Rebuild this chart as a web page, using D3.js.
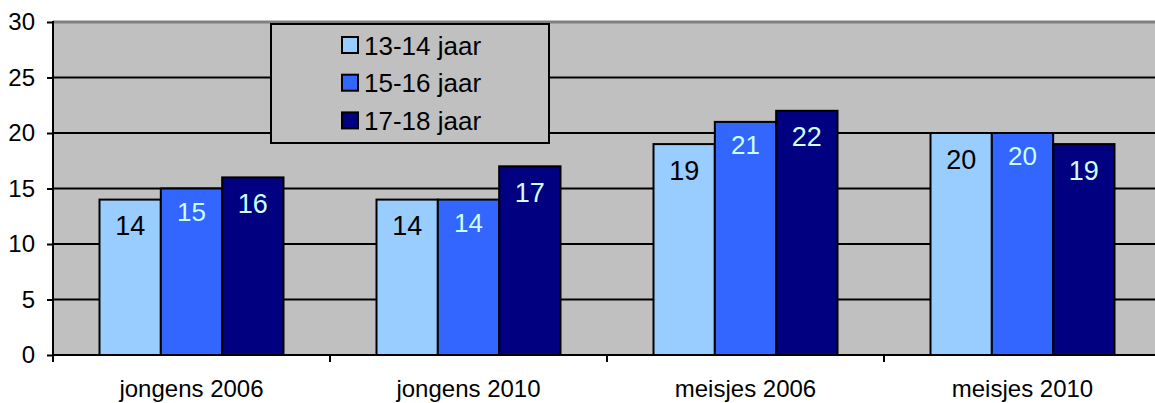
<!DOCTYPE html>
<html>
<head>
<meta charset="utf-8">
<script src="https://cdn.jsdelivr.net/npm/d3@7"></script>
<style>
  body { margin: 0; background: #fff; }
  svg text { font-family: Arial, "Liberation Sans", sans-serif; }
</style>
</head>
<body>
<div id="chart"></div>
<script>
var categories = ['jongens 2006', 'jongens 2010', 'meisjes 2006', 'meisjes 2010'];
var seriesNames = ['13-14 jaar', '15-16 jaar', '17-18 jaar'];
var age1314 = [14, 14, 19, 20];
var age1516 = [15, 14, 21, 20];
var age1718 = [16, 17, 22, 19];
var yTicks = [0, 5, 10, 15, 20, 25, 30];

var svgWidth = 1155;
var svgHeight = 403;

var colors = ['#99CCFF', '#3366FF', '#000080'];
var labelColors = ['#000000', '#CCFFFF', '#CCFFFF'];
var labelSizes = [27, 26, 27];
var labelOffsets = [35.5, 32, 35.5];

var plot = { left: 53, right: 1161, top: 22, bottom: 355 };

var svg = d3.select('#chart')
    .append('svg')
    .attr('width', svgWidth)
    .attr('height', svgHeight);

var seriesData = [age1314, age1516, age1718];

var xScale = d3.scaleBand()
    .domain(categories)
    .range([plot.left, plot.right]);

var groupW = xScale.bandwidth();
var innerScale = d3.scaleBand()
    .domain(d3.range(seriesNames.length))
    .range([46.5, groupW - 46.5]);

var yScale = d3.scaleLinear()
    .domain([0, 30])
    .range([plot.bottom, plot.top]);

// plot background
svg.append('rect')
    .attr('x', plot.left)
    .attr('y', plot.top)
    .attr('width', plot.right - plot.left)
    .attr('height', plot.bottom - plot.top)
    .attr('fill', '#C0C0C0');

// gridlines
svg.append('g')
    .selectAll('line')
    .data(yTicks.filter(d => d > 0 && d < 30))
    .enter()
    .append('line')
    .attr('x1', plot.left)
    .attr('x2', plot.right)
    .attr('y1', d => yScale(d))
    .attr('y2', d => yScale(d))
    .attr('stroke', '#000')
    .attr('stroke-width', 2);

// top border
svg.append('line')
    .attr('x1', plot.left)
    .attr('x2', plot.right)
    .attr('y1', plot.top)
    .attr('y2', plot.top)
    .attr('stroke', '#808080')
    .attr('stroke-width', 3);

// bars
var bars = [];
seriesData.forEach(function(vals, s) {
    vals.forEach(function(v, i) {
        bars.push({ s: s, cat: categories[i], value: v });
    });
});

svg.append('g')
    .selectAll('rect')
    .data(bars)
    .enter()
    .append('rect')
    .attr('x', d => xScale(d.cat) + innerScale(d.s))
    .attr('y', d => yScale(d.value))
    .attr('width', innerScale.bandwidth())
    .attr('height', d => yScale(0) - yScale(d.value))
    .attr('fill', d => colors[d.s])
    .attr('stroke', '#000')
    .attr('stroke-width', 2);

svg.append('g')
    .selectAll('text')
    .data(bars)
    .enter()
    .append('text')
    .attr('x', d => xScale(d.cat) + innerScale(d.s) + innerScale.bandwidth() / 2)
    .attr('y', d => yScale(d.value) + labelOffsets[d.s])
    .attr('text-anchor', 'middle')
    .style('font-size', d => labelSizes[d.s] + 'px')
    .attr('fill', d => labelColors[d.s])
    .text(d => d.value);

// y axis
var leftAxis = d3.axisLeft(yScale)
    .tickValues(yTicks)
    .tickSize(6)
    .tickPadding(12);

var yAxisG = svg.append('g')
    .attr('transform', `translate(${plot.left},0)`)
    .call(leftAxis);
yAxisG.select('.domain').remove();
yAxisG.selectAll('line').attr('stroke', '#000').attr('stroke-width', 2);
yAxisG.selectAll('text')
    .style('font-size', '24px')
    .attr('fill', '#000');
yAxisG.append('line')
    .attr('x1', 0).attr('x2', 0)
    .attr('y1', plot.top - 1).attr('y2', plot.bottom + 1)
    .attr('stroke', '#000').attr('stroke-width', 2);

// x axis
var xAxisG = svg.append('g')
    .attr('transform', `translate(0,${plot.bottom})`);
xAxisG.append('line')
    .attr('x1', plot.left).attr('x2', plot.right)
    .attr('stroke', '#000').attr('stroke-width', 2);
xAxisG.selectAll('line.tick')
    .data(categories.concat(['end']))
    .enter()
    .append('line')
    .attr('class', 'tick')
    .attr('x1', (d, i) => plot.left + i * groupW)
    .attr('x2', (d, i) => plot.left + i * groupW)
    .attr('y1', 0)
    .attr('y2', 7)
    .attr('stroke', '#000')
    .attr('stroke-width', 2);
xAxisG.selectAll('text')
    .data(categories)
    .enter()
    .append('text')
    .attr('x', d => xScale(d) + groupW / 2)
    .attr('y', 41.5)
    .attr('text-anchor', 'middle')
    .style('font-size', '24px')
    .attr('fill', '#000')
    .text(d => d);

// legend
var legend = svg.append('g');
legend.append('rect')
    .attr('x', 271)
    .attr('y', 24)
    .attr('width', 278)
    .attr('height', 119)
    .attr('fill', '#C0C0C0')
    .attr('stroke', '#000')
    .attr('stroke-width', 2);

var rows = legend.selectAll('g.row')
    .data(seriesNames)
    .enter()
    .append('g')
    .attr('class', 'row')
    .attr('transform', (d, i) => `translate(342,${45 + i * 37.7})`);

rows.append('rect')
    .attr('x', 0)
    .attr('y', -8)
    .attr('width', 16)
    .attr('height', 16)
    .attr('fill', (d, i) => colors[i])
    .attr('stroke', '#000')
    .attr('stroke-width', 2);

rows.append('text')
    .attr('x', 22)
    .attr('y', 9.5)
    .style('font-size', '26px')
    .attr('fill', '#000')
    .text(d => d);
</script>
</body>
</html>
